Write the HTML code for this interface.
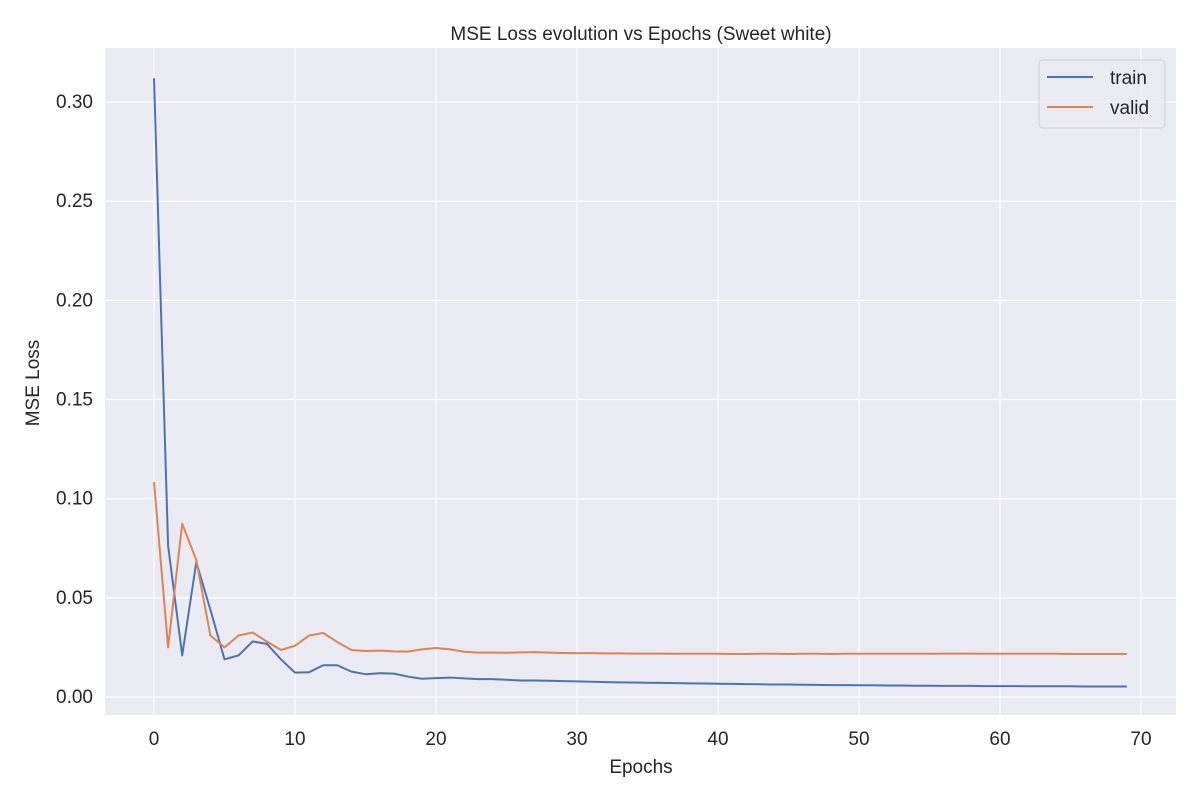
<!DOCTYPE html>
<html><head><meta charset="utf-8"><style>
body{margin:0;background:#fff;font-family:"Liberation Sans",sans-serif}
svg text{font-family:"Liberation Sans",sans-serif;fill:#262626}
</style></head><body>
<svg id="chart" width="1200" height="800" xmlns="http://www.w3.org/2000/svg">
<rect x="105" y="48" width="1071" height="667" fill="#eaeaf2"/>
<g id="grid"></g><g id="series"></g><g id="ticks"></g>
<text x="641" y="40" font-size="19" text-anchor="middle">MSE Loss evolution vs Epochs (Sweet white)</text>
<text x="641" y="773" font-size="19" text-anchor="middle">Epochs</text>
<text x="39" y="383" font-size="19" text-anchor="middle" transform="rotate(-90 39 383)">MSE Loss</text>
<g>
<rect x="1039" y="60" width="126" height="68" rx="4" fill="#eaeaf2" stroke="#d0d0d8" stroke-width="1" fill-opacity="0.8"/>
<line x1="1047" y1="77" x2="1093" y2="77" stroke="#4c72b0" stroke-width="2"/>
<text x="1110" y="84" font-size="19">train</text>
<line x1="1047" y1="107" x2="1093" y2="107" stroke="#dd8452" stroke-width="2"/>
<text x="1110" y="114" font-size="19">valid</text>
</g>
</svg>
<script>
const xTicks=[0,10,20,30,40,50,60,70];
const yTicks=[0,0.05,0.10,0.15,0.20,0.25,0.30];
const yTickLabels=["0.00","0.05","0.10","0.15","0.20","0.25","0.30"];
const train=[0.312,0.0763,0.021,0.068,0.044,0.019,0.021,0.028,0.0268,0.019,0.0123,0.0125,0.016,0.016,0.0128,0.0115,0.012,0.0118,0.0103,0.0092,0.0095,0.0098,0.0094,0.009,0.009,0.0087,0.0083,0.0083,0.0082,0.008,0.0079,0.0077,0.0075,0.0074,0.0073,0.0072,0.0071,0.007,0.0069,0.0068,0.0067,0.0066,0.0065,0.0064,0.0063,0.0063,0.0062,0.0061,0.006,0.006,0.0059,0.0059,0.0058,0.0058,0.0057,0.0057,0.0056,0.0056,0.0056,0.0055,0.0055,0.0055,0.0054,0.0054,0.0054,0.0054,0.0053,0.0053,0.0053,0.0053];
const valid=[0.1084,0.025,0.0874,0.069,0.031,0.025,0.031,0.0325,0.028,0.0237,0.0258,0.031,0.0323,0.0277,0.0237,0.0232,0.0234,0.023,0.0229,0.024,0.0247,0.024,0.0228,0.0224,0.0224,0.0223,0.0225,0.0226,0.0224,0.0222,0.0221,0.0221,0.022,0.022,0.0219,0.0219,0.0219,0.0218,0.0218,0.0218,0.0218,0.0217,0.0217,0.0218,0.0218,0.0217,0.0218,0.0218,0.0217,0.0218,0.0218,0.0218,0.0218,0.0218,0.0218,0.0218,0.0219,0.0219,0.0219,0.0218,0.0218,0.0218,0.0218,0.0218,0.0218,0.0217,0.0217,0.0217,0.0217,0.0217];
const NS="http://www.w3.org/2000/svg";
const X=v=>154+v*14.1;
const Y=v=>697-v*1983.3;
function mk(t,a,p){const e=document.createElementNS(NS,t);for(const k in a)e.setAttribute(k,a[k]);p.appendChild(e);return e;}
const grid=document.getElementById('grid'),ticks=document.getElementById('ticks'),ser=document.getElementById('series');
xTicks.forEach(t=>{
 const l=mk('line',{x1:X(t),x2:X(t),y1:48,y2:715,stroke:'#fff','stroke-width':1.2},grid);
 
 
 const tx=mk('text',{x:X(t),y:745,'font-size':19,'text-anchor':'middle'},ticks);
 tx.textContent=t;
 
 
});
yTicks.forEach((t,i)=>{
 const l=mk('line',{x1:105,x2:1176,y1:Y(t),y2:Y(t),stroke:'#fff','stroke-width':1.2},grid);
 
 
 const tx=mk('text',{x:93,y:Y(t)+6,'font-size':19,'text-anchor':'end'},ticks);
 tx.textContent=yTickLabels[i];
 
 
});
function line(d,c,n){
 const p=mk('polyline',{points:d.map((v,i)=>X(i)+','+Y(v)).join(' '),fill:'none',stroke:c,'stroke-width':2,'stroke-linejoin':'round'},ser);
 
 
}
line(train,'#4c72b0','train-line');
line(valid,'#dd8452','valid-line');
</script>
</body></html>
